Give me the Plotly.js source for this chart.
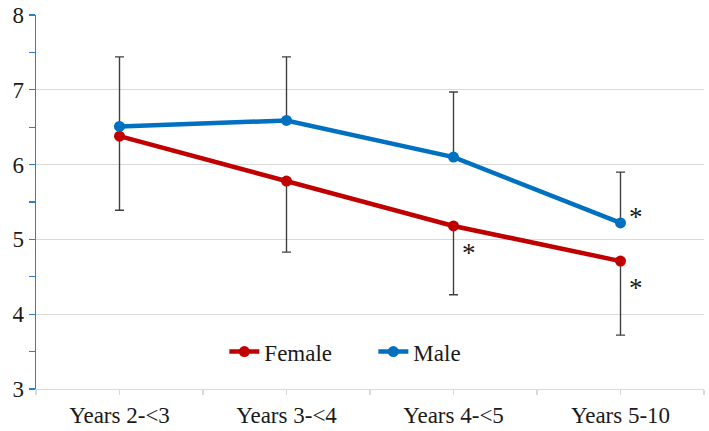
<!DOCTYPE html>
<html>
<head>
<meta charset="utf-8">
<script src="https://cdn.plot.ly/plotly-3.0.1.min.js"></script>
<style>html,body{margin:0;padding:0;background:#fff;}#chart{width:709px;height:431px;}</style>
</head>
<body>
<div id="chart"></div>
<div id="status" style="position:absolute;left:0;top:0;width:0;height:0;overflow:hidden;"></div>
<script>
const categories = ['Years 2-<3', 'Years 3-<4', 'Years 4-<5', 'Years 5-10'];
const female = [6.38, 5.78, 5.18, 4.71];
const male = [6.51, 6.59, 6.10, 5.22];
const femaleErrMinus = [0.99, 0.95, 0.92, 0.99];
const maleErrPlus = [0.93, 0.85, 0.87, 0.68];
const sigCat = [2, 3, 3];
const sigY = [4.82, 5.30, 4.35];

const xIdx = categories.map((c, i) => i);
const zeros = categories.map(() => 0);

const FONT = 'Liberation Serif';
const errStyle = {color: '#404040', thickness: 1.4, width: 4.5};

const traces = [
  {
    x: xIdx, y: female, name: 'Female', type: 'scatter', mode: 'lines+markers',
    line: {color: '#c00000', width: 4.5},
    marker: {color: '#c00000', size: 11},
    error_y: Object.assign({type: 'data', symmetric: false, array: zeros, arrayminus: femaleErrMinus}, errStyle)
  },
  {
    x: xIdx, y: male, name: 'Male', type: 'scatter', mode: 'lines+markers',
    line: {color: '#0070c0', width: 4.5},
    marker: {color: '#0070c0', size: 11},
    error_y: Object.assign({type: 'data', symmetric: false, array: maleErrPlus, arrayminus: zeros}, errStyle)
  }
];

const tickvals = [];
const ticktext = [];
categories.forEach((c, i) => {
  tickvals.push(i - 0.5); ticktext.push('');
  tickvals.push(i); ticktext.push(c);
});
tickvals.push(categories.length - 0.5); ticktext.push('');

const annotations = sigCat.map((c, i) => ({
  x: c, y: sigY[i], xref: 'x', yref: 'y', text: '*', showarrow: false,
  xshift: 15, font: {family: FONT, size: 27, color: '#1a1a1a'}
}));

const layout = {
  width: 709, height: 431,
  margin: {l: 36, r: 5, t: 15, b: 42},
  paper_bgcolor: '#fff', plot_bgcolor: '#fff',
  font: {family: FONT, size: 23, color: '#1a1a1a'},
  showlegend: true,
  legend: {orientation: 'h', x: 0.505, xanchor: 'center', y: 0.1, yanchor: 'middle',
           entrywidth: 104, entrywidthmode: 'pixels',
           font: {family: FONT, size: 23, color: '#1a1a1a'}, bgcolor: 'rgba(0,0,0,0)', traceorder: 'normal'},
  xaxis: {
    range: [-0.5, categories.length - 0.5], tickmode: 'array', tickvals: tickvals, ticktext: ticktext,
    showgrid: false, zeroline: false, showline: true, linecolor: '#d9d9d9', linewidth: 1.3,
    ticks: 'outside', ticklen: 5, tickcolor: '#d9d9d9', tickwidth: 1.3,
    tickfont: {family: FONT, size: 23, color: '#1a1a1a'},
    fixedrange: true
  },
  yaxis: {
    range: [3, 8], dtick: 1, tick0: 3, showgrid: true, gridcolor: '#d9d9d9', gridwidth: 1.3,
    zeroline: false, showline: true, linecolor: '#2a7fd4', linewidth: 1.3,
    ticks: 'outside', ticklen: 6, tickcolor: '#2a7fd4', tickwidth: 1.3,
    tickfont: {family: FONT, size: 23, color: '#1a1a1a'},
    minor: {dtick: 0.5, ticks: 'outside', ticklen: 6, tickcolor: '#2a7fd4', tickwidth: 1.3, showgrid: false},
    fixedrange: true
  },
  annotations: annotations
};

Plotly.newPlot('chart', traces, layout, {displayModeBar: false, staticPlot: true}).then(function () {
  document.getElementById('status').textContent = ' ';
});
</script>
</body>
</html>
